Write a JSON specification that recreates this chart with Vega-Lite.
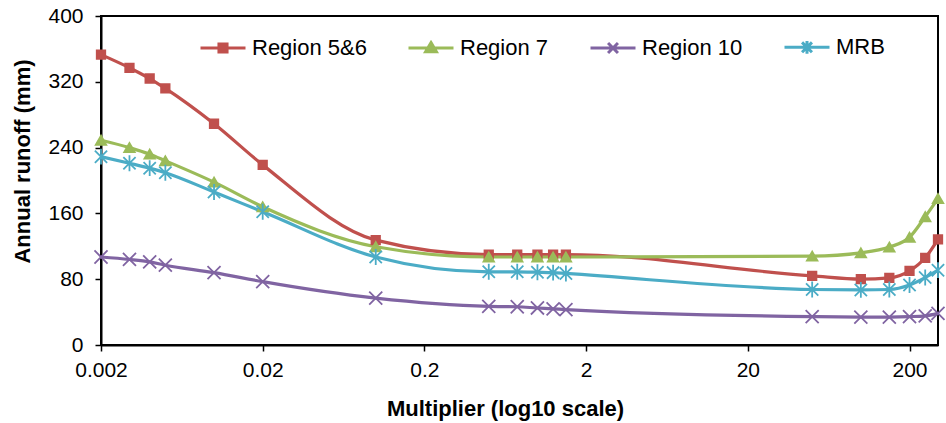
{
  "$schema": "https://vega.github.io/schema/vega-lite/v6.json",
  "width": 837,
  "height": 329,
  "autosize": {"type": "none"},
  "padding": {"left": 101, "top": 16, "right": 8, "bottom": 78},
  "background": "white",
  "config": {
    "font": "Liberation Sans",
    "view": {"stroke": "black", "strokeWidth": 2},
    "axis": {"grid": false, "domainColor": "black", "domainWidth": 2, "tickColor": "black", "tickWidth": 1.5, "tickSize": 6, "labelColor": "black", "titleColor": "black", "labelFont": "Liberation Sans", "titleFont": "Liberation Sans"}
  },
  "data": {
    "values": [
      {"x": 0.002, "y": 353, "series": "Region 5&6"},
      {"x": 0.003, "y": 337, "series": "Region 5&6"},
      {"x": 0.004, "y": 324, "series": "Region 5&6"},
      {"x": 0.005, "y": 312, "series": "Region 5&6"},
      {"x": 0.01, "y": 269, "series": "Region 5&6"},
      {"x": 0.02, "y": 219, "series": "Region 5&6"},
      {"x": 0.1, "y": 127.5, "series": "Region 5&6"},
      {"x": 0.5, "y": 110, "series": "Region 5&6"},
      {"x": 0.75, "y": 110, "series": "Region 5&6"},
      {"x": 1, "y": 110, "series": "Region 5&6"},
      {"x": 1.25, "y": 110, "series": "Region 5&6"},
      {"x": 1.5, "y": 110, "series": "Region 5&6"},
      {"x": 50, "y": 84, "series": "Region 5&6"},
      {"x": 100, "y": 80, "series": "Region 5&6"},
      {"x": 150, "y": 81.5, "series": "Region 5&6"},
      {"x": 200, "y": 90, "series": "Region 5&6"},
      {"x": 250, "y": 106, "series": "Region 5&6"},
      {"x": 300, "y": 128.5, "series": "Region 5&6"},
      {"x": 0.002, "y": 249, "series": "Region 7"},
      {"x": 0.003, "y": 240, "series": "Region 7"},
      {"x": 0.004, "y": 232, "series": "Region 7"},
      {"x": 0.005, "y": 224, "series": "Region 7"},
      {"x": 0.01, "y": 198, "series": "Region 7"},
      {"x": 0.02, "y": 168, "series": "Region 7"},
      {"x": 0.1, "y": 119.5, "series": "Region 7"},
      {"x": 0.5, "y": 107, "series": "Region 7"},
      {"x": 0.75, "y": 107, "series": "Region 7"},
      {"x": 1, "y": 107, "series": "Region 7"},
      {"x": 1.25, "y": 107, "series": "Region 7"},
      {"x": 1.5, "y": 107, "series": "Region 7"},
      {"x": 50, "y": 108, "series": "Region 7"},
      {"x": 100, "y": 112, "series": "Region 7"},
      {"x": 150, "y": 119, "series": "Region 7"},
      {"x": 200, "y": 131, "series": "Region 7"},
      {"x": 250, "y": 156, "series": "Region 7"},
      {"x": 300, "y": 178, "series": "Region 7"},
      {"x": 0.002, "y": 107, "series": "Region 10"},
      {"x": 0.003, "y": 104, "series": "Region 10"},
      {"x": 0.004, "y": 101, "series": "Region 10"},
      {"x": 0.005, "y": 97, "series": "Region 10"},
      {"x": 0.01, "y": 88, "series": "Region 10"},
      {"x": 0.02, "y": 77, "series": "Region 10"},
      {"x": 0.1, "y": 57, "series": "Region 10"},
      {"x": 0.5, "y": 47, "series": "Region 10"},
      {"x": 0.75, "y": 46.5, "series": "Region 10"},
      {"x": 1, "y": 45, "series": "Region 10"},
      {"x": 1.25, "y": 44, "series": "Region 10"},
      {"x": 1.5, "y": 43, "series": "Region 10"},
      {"x": 50, "y": 34.5, "series": "Region 10"},
      {"x": 100, "y": 34, "series": "Region 10"},
      {"x": 150, "y": 34, "series": "Region 10"},
      {"x": 200, "y": 34.5, "series": "Region 10"},
      {"x": 250, "y": 35.5, "series": "Region 10"},
      {"x": 300, "y": 38.5, "series": "Region 10"},
      {"x": 0.002, "y": 229, "series": "MRB"},
      {"x": 0.003, "y": 221, "series": "MRB"},
      {"x": 0.004, "y": 215, "series": "MRB"},
      {"x": 0.005, "y": 209.5, "series": "MRB"},
      {"x": 0.01, "y": 186, "series": "MRB"},
      {"x": 0.02, "y": 162, "series": "MRB"},
      {"x": 0.1, "y": 107, "series": "MRB"},
      {"x": 0.5, "y": 89, "series": "MRB"},
      {"x": 0.75, "y": 89, "series": "MRB"},
      {"x": 1, "y": 88.5, "series": "MRB"},
      {"x": 1.25, "y": 88, "series": "MRB"},
      {"x": 1.5, "y": 87, "series": "MRB"},
      {"x": 50, "y": 67.5, "series": "MRB"},
      {"x": 100, "y": 67, "series": "MRB"},
      {"x": 150, "y": 67.5, "series": "MRB"},
      {"x": 200, "y": 73, "series": "MRB"},
      {"x": 250, "y": 82, "series": "MRB"},
      {"x": 300, "y": 91, "series": "MRB"}
    ]
  },
  "encoding": {
    "x": {
      "field": "x", "type": "quantitative",
      "scale": {"type": "log", "domain": [0.002, 300], "nice": false},
      "axis": {
        "values": [0.002, 0.02, 0.2, 2, 20, 200],
        "labelExpr": "format(datum.value, '~g')",
        "labelFontSize": 21, "labelPadding": 8, "labelFlush": false, "labelOverlap": false,
        "title": "Multiplier (log10 scale)",
        "titleFontSize": 22, "titleFontWeight": "bold",
        "titleX": 404, "titleY": 63, "titleBaseline": "middle", "titleAlign": "center"
      }
    },
    "y": {
      "field": "y", "type": "quantitative",
      "scale": {"domain": [0, 400], "nice": false},
      "axis": {
        "values": [0, 80, 160, 240, 320, 400],
        "labelFontSize": 21, "labelPadding": 12, "labelFlush": false,
        "title": "Annual runoff (mm)",
        "titleFontSize": 22, "titleFontWeight": "bold",
        "titleX": -79, "titleY": 145, "titleBaseline": "middle", "titleAlign": "center", "titleAngle": -90
      }
    }
  },
  "layer": [
    {
      "mark": {"type": "line", "interpolate": "monotone", "strokeWidth": 3.2},
      "encoding": {
        "color": {
          "field": "series", "type": "nominal",
          "scale": {"domain": ["Region 5&6", "Region 7", "Region 10", "MRB"], "range": ["#C0504D", "#9BBB59", "#8064A2", "#4BACC6"]},
          "legend": {
            "orient": "none", "legendX": 98, "legendY": 7, "direction": "horizontal", "title": null,
            "symbolSize": 2025, "symbolStrokeWidth": 3, "labelFontSize": 22, "labelColor": "black", "labelFont": "Liberation Sans",
            "labelOffset": 5, "columnPadding": 35, "padding": 0,
            "encode": {
              "symbols": {
                "update": {
                  "shape": {"signal": "datum.value === 'Region 5&6' ? 'M-1,0L1,0M-0.18,-0.18L0.18,-0.18L0.18,0.18L-0.18,0.18Z' : datum.value === 'Region 7' ? 'M-1,0L1,0M0,-0.24L0.24,0.17L-0.24,0.17Z' : datum.value === 'Region 10' ? 'M-1,0L1,0M-0.22,-0.22L0.22,0.22M-0.22,0.22L0.22,-0.22' : 'M-1,0L1,0M-0.22,-0.22L0.22,0.22M-0.22,0.22L0.22,-0.22M0,-0.28L0,0.28'"},
                  "fill": {"signal": "scale('color', datum.value)"},
                  "stroke": {"signal": "scale('color', datum.value)"},
                  "strokeWidth": {"value": 3},
                  "opacity": {"value": 1},
                  "fillOpacity": {"value": 1},
                  "strokeOpacity": {"value": 1}
                }
              }
            }
          }
        }
      }
    },
    {
      "mark": {"type": "point", "opacity": 1, "fillOpacity": 1, "strokeWidth": 1.8},
      "encoding": {
        "fill": {
          "condition": [
            {"test": "datum.series === 'Region 5&6'", "value": "#C0504D"},
            {"test": "datum.series === 'Region 7'", "value": "#9BBB59"},
            {"test": "datum.series === 'Region 10'", "value": "#8064A2"}
          ],
          "value": "#4BACC6"
        },
        "stroke": {
          "condition": [
            {"test": "datum.series === 'Region 5&6'", "value": "#C0504D"},
            {"test": "datum.series === 'Region 7'", "value": "#9BBB59"},
            {"test": "datum.series === 'Region 10'", "value": "#8064A2"}
          ],
          "value": "#4BACC6"
        },
        "shape": {
          "condition": [
            {"test": "datum.series === 'Region 5&6'", "value": "square"},
            {"test": "datum.series === 'Region 7'", "value": "triangle-up"},
            {"test": "datum.series === 'Region 10'", "value": "M-1,-1L1,1M-1,1L1,-1"}
          ],
          "value": "M-1,-1L1,1M-1,1L1,-1M0,-1.3L0,1.3"
        },
        "size": {
          "condition": [
            {"test": "datum.series === 'Region 5&6'", "value": 72},
            {"test": "datum.series === 'Region 7'", "value": 110},
            {"test": "datum.series === 'Region 10'", "value": 170}
          ],
          "value": 150
        }
      }
    }
  ]
}
